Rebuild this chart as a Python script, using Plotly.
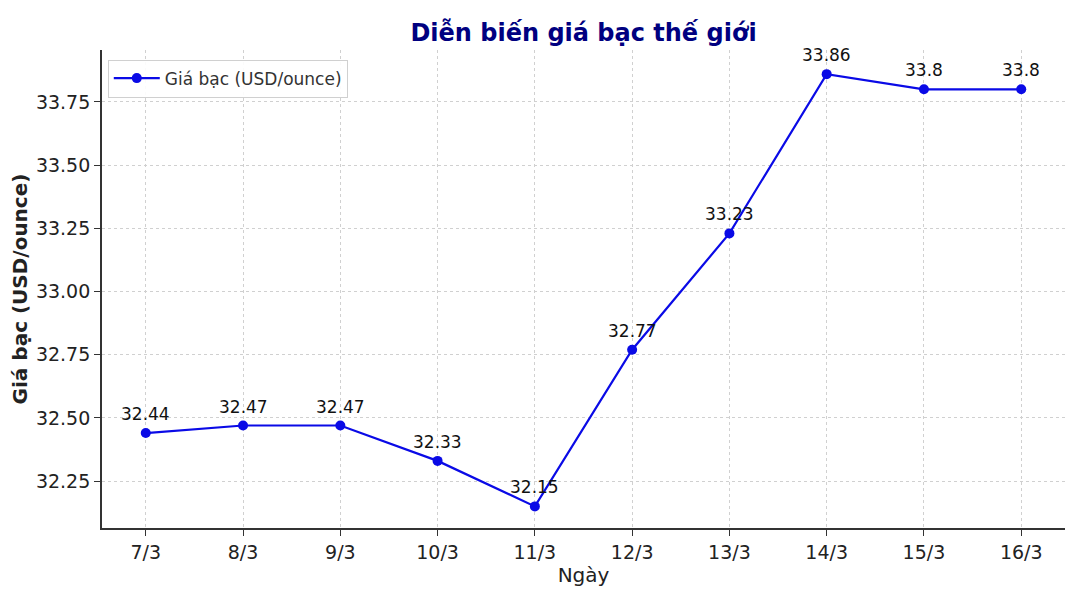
import plotly.graph_objects as go

dates = ["7/3", "8/3", "9/3", "10/3", "11/3", "12/3", "13/3", "14/3", "15/3", "16/3"]
prices = [32.44, 32.47, 32.47, 32.33, 32.15, 32.77, 33.23, 33.86, 33.8, 33.8]
label_texts = ["32.44", "32.47", "32.47", "32.33", "32.15", "32.77", "33.23", "33.86", "33.8", "33.8"]
y_ticks = [32.25, 32.50, 32.75, 33.00, 33.25, 33.50, 33.75]

xs = list(range(len(dates)))

# page has an 8px body margin, so the figure is sized/offset to compensate
W, H = 1071, 598
L, R, T, B = 94, 14, 42, 78
PW, PH = W - L - R, H - T - B

fig = go.Figure()
fig.add_trace(go.Scatter(
    x=xs, y=prices, mode="lines+markers",
    name="Giá bạc (USD/ounce)",
    line=dict(color="#0a0ae6", width=2.2),
    marker=dict(color="#0a0ae6", size=10),
))

for x, y, t in zip(xs, prices, label_texts):
    fig.add_annotation(x=x, y=y, text=t, showarrow=False, yshift=19,
                       font=dict(family="DejaVu Sans", size=17, color="#111"))

fig.add_shape(type="rect", xref="paper", yref="paper",
              x0=(1073 - 102) / PW, x1=(1085 - 102) / PW,
              y0=-(B + 10) / PH, y1=(528 + 10) / PH,
              fillcolor="#eeeeee", line=dict(width=0), layer="below")

fig.update_layout(
    width=W, height=H,
    margin=dict(l=L, r=R, t=T, b=B, autoexpand=False),
    paper_bgcolor="white", plot_bgcolor="white",
    title=dict(text="<b>Diễn biến giá bạc thế giới</b>", x=(L + PW / 2) / W, xanchor="center",
               y=1 - 25 / H, yanchor="middle",
               font=dict(family="DejaVu Sans", size=24, color="#000080")),
    font=dict(family="DejaVu Sans", color="#222"),
    showlegend=True,
    legend=dict(x=0.006, y=0.98, xanchor="left", yanchor="top", itemwidth=46,
                bgcolor="rgba(255,255,255,0.9)", bordercolor="#d0d0d0", borderwidth=1,
                font=dict(family="DejaVu Sans", size=17, color="#333")),
    xaxis=dict(
        range=[-0.45, 9.45], tickmode="array", tickvals=xs, ticktext=dates,
        showgrid=True, gridcolor="#d0d0d0", griddash="3px,3px", gridwidth=1,
        showline=True, linecolor="#333", linewidth=1.8, automargin=False,
        ticks="outside", ticklen=6, tickcolor="#333", tickwidth=1.2,
        tickfont=dict(size=19, color="#222"), zeroline=False,
        title=dict(text="Ngày", font=dict(size=20, color="#222"), standoff=6),
    ),
    yaxis=dict(
        range=[32.0645, 33.9555], tickmode="array", tickvals=y_ticks,
        ticktext=[f"{v:.2f}" for v in y_ticks],
        showgrid=True, gridcolor="#d0d0d0", griddash="3px,3px", gridwidth=1,
        showline=True, linecolor="#333", linewidth=1.8, automargin=False,
        ticks="outside", ticklen=6, tickcolor="#333", tickwidth=1.2,
        tickfont=dict(size=19, color="#222"), zeroline=False,
        title=dict(text="<b>Giá bạc (USD/ounce)</b>", font=dict(size=20, color="#222"), standoff=8),
    ),
)

fig.write_html("out.html")
